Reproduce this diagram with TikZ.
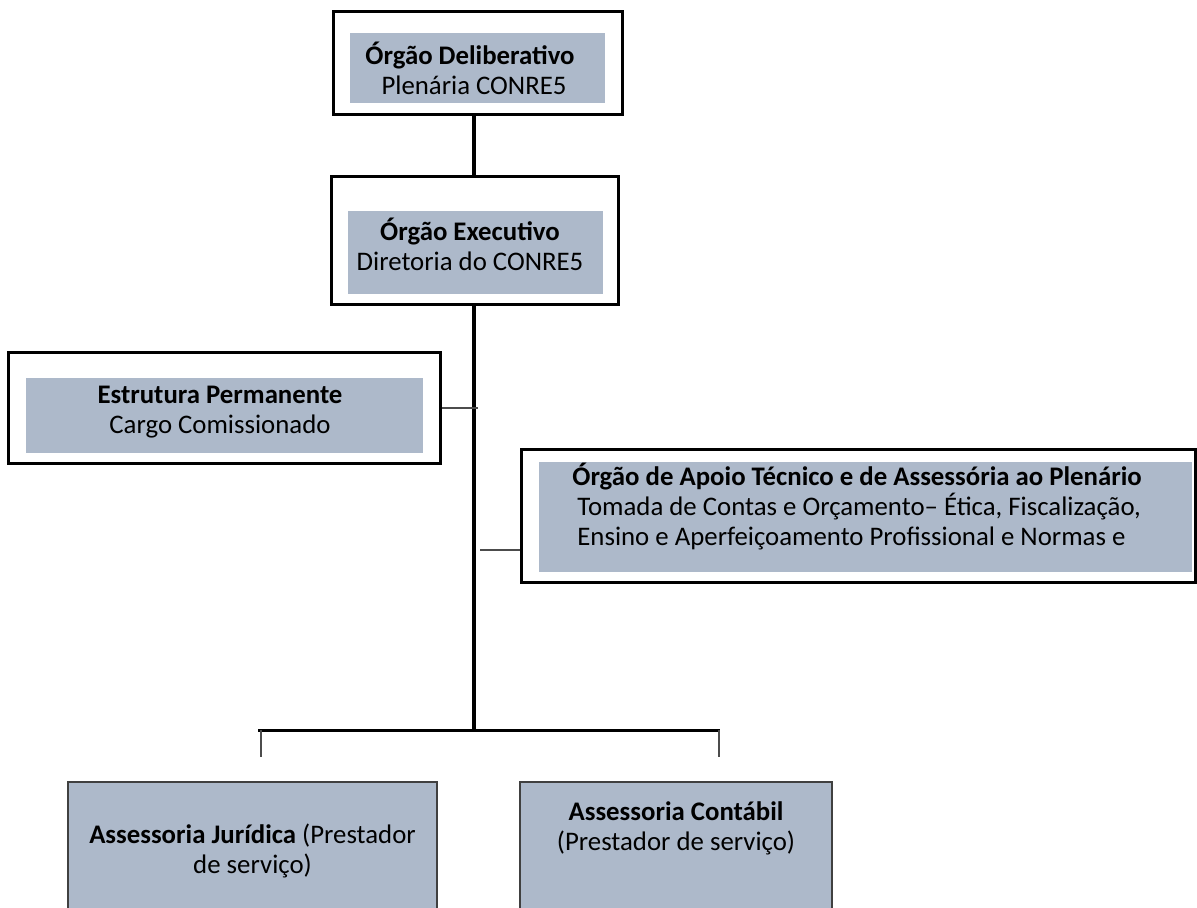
\documentclass[tikz,border=0pt]{standalone}
\usepackage{fontspec}
\setmainfont{Carlito}
\usetikzlibrary{positioning}
\definecolor{boxgray}{RGB}{173,185,202}

\begin{document}
\begin{tikzpicture}[
  x=0.5pt, y=-0.5pt,
  frame/.style = {draw, line width=1.5pt, fill=white, inner sep=0pt},
  shade/.style = {fill=boxgray, inner sep=0pt},
  unit/.style  = {draw=black!75, line width=0.8pt, fill=boxgray, inner sep=0pt},
  txt/.style   = {inner sep=0pt, align=center, font=\fontsize{13.4}{15}\selectfont},
  trunk/.style = {line width=2.4pt},
  bar/.style   = {line width=1.5pt},
  branch/.style = {line width=0.6pt, draw=black!70}
]
  \useasboundingbox (0,0) rectangle (1197,908);
  \clip (0,0) rectangle (1197,908);

  % Orgao Deliberativo
  \node[frame, minimum width=144.5pt, minimum height=51.5pt] (delib) at (477.5,63.5) {};
  \node[shade, minimum width=127.5pt, minimum height=35pt] (delibshade) at (477.5,68) {};
  \node[txt] (delibtxt) at (470,68) {\textbf{Órgão Deliberativo}\\\hspace*{4pt}Plenária CONRE5};

  % Orgao Executivo
  \node[frame, minimum width=143.5pt, minimum height=64pt] (exec) at (474.5,241) {};
  \node[shade, minimum width=127.5pt, minimum height=41.5pt] (execshade) at (475.5,252.5) {};
  \node[txt] (exectxt) at (470,244) {\textbf{Órgão Executivo}\\Diretoria do CONRE5};

  % Estrutura Permanente
  \node[frame, minimum width=216pt, minimum height=55pt] (perm) at (224,408) {};
  \node[shade, minimum width=198.5pt, minimum height=37.5pt] (permshade) at (224.5,415.5) {};
  \node[txt] (permtxt) at (220,412) {\textbf{Estrutura Permanente}\\Cargo Comissionado};

  % Orgao de Apoio Tecnico
  \node[frame, minimum width=337pt, minimum height=66.5pt] (apoio) at (858,516) {};
  \node[shade, minimum width=326.5pt, minimum height=55pt] (apoioshade) at (865.5,517) {};
  \node[txt, align=left, anchor=west] (apoiotxt) at (572,506)
    {\textbf{Órgão de Apoio Técnico e de Assessória ao Plenário}\\
     \hspace*{2.5pt}Tomada de Contas e Orçamento– Ética, Fiscalização,\\
     \hspace*{2.5pt}Ensino e Aperfeiçoamento Profissional e Normas e};

  % Assessorias
  \node[unit, minimum width=184.5pt, minimum height=74pt] (jurid) at (252.5,856) {};
  \node[txt] (juridtxt) at (252.5,851) {\textbf{Assessoria Jurídica} (Prestador\\de serviço)};
  \node[unit, minimum width=156pt, minimum height=74pt] (contab) at (676,856) {};
  \node[txt] (contabtxt) at (676,828) {\textbf{Assessoria Contábil}\\(Prestador de serviço)};

  % connectors
  \coordinate (fork) at (474,730);
  \coordinate (forkl) at (258,730);
  \coordinate (forkr) at (720,730);
  \coordinate (dropl) at (261,757);
  \coordinate (dropr) at (719,757);
  \coordinate (permend) at (478,408);
  \coordinate (apoiostart) at (480,550);

  \draw[trunk] (delib.south -| 474,0) -- (exec.north -| 474,0);
  \draw[trunk] (exec.south -| 474,0) -- (fork);
  \draw[bar] (forkl) -- (forkr);
  \draw[branch] (dropl |- fork) -- (dropl);
  \draw[branch] (dropr |- fork) -- (dropr);
  \draw[branch] (perm.east |- permend) -- (permend);
  \draw[branch] (apoiostart) -- (apoio.west |- apoiostart);
\end{tikzpicture}
\end{document}
